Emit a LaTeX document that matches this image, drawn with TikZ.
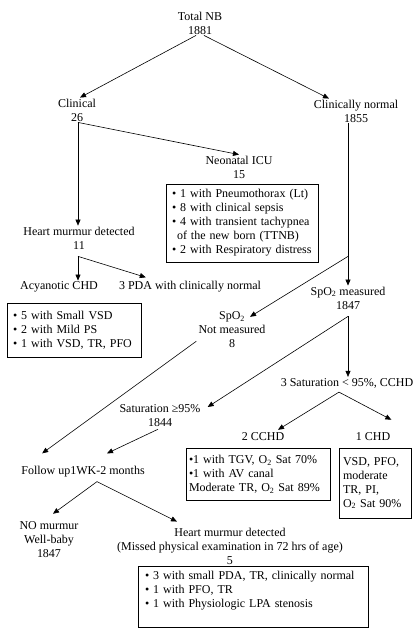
\documentclass[tikz,border=0pt]{standalone}
\usepackage{fontspec}
\setmainfont{Liberation Serif}
\usetikzlibrary{arrows.meta}
\usetikzlibrary{calc}

\begin{document}
\begin{tikzpicture}[x=1pt,y=-1pt,font=\fontsize{12}{14}\selectfont]
\tikzset{lbl/.style={inner sep=1pt,align=center}}
\tikzset{infobox/.style={draw=black,line width=0.6pt,align=left,inner ysep=0pt}}
\tikzset{arr/.style={line width=0.6pt,-{Triangle[length=6pt,width=5pt]}}}
\useasboundingbox (0,0) rectangle (416,630);

   \node[lbl] (total) at (200,23) {Total NB\\1881};
   \node[lbl] (clin) at (77,110) {Clinical\\26};
   \node[lbl] (norm) at (356,111) {Clinically normal\\1855};
   \node[lbl] (nicu) at (239,167) {Neonatal ICU\\15};
   \node[infobox,inner xsep=6pt,text width=140pt,minimum height=78pt] (nicubox) at (242,223)
      {• 1 with Pneumothorax (Lt)\\• 8 with clinical sepsis\\• 4 with transient tachypnea\\
       \hspace*{5pt}of the new born (TTNB)\\• 2 with Respiratory distress};
   \node[lbl] (hm1) at (79,238) {Heart murmur detected\\11};
   \node[lbl] (acy) at (59,287) {Acyanotic CHD};
   \node[lbl] (pda) at (190,287) {3 PDA with clinically normal};
   \node[infobox,inner xsep=6pt,text width=122pt,minimum height=54pt] (acybox) at (74,330)
      {• 5 with Small VSD\\• 2 with Mild PS\\• 1 with VSD, TR, PFO};
   \node[lbl] (spm) at (348,298) {SpO\textsubscript{2} measured\\1847};
   \node[lbl] (spn) at (232,330) {SpO\textsubscript{2}\\Not measured\\8};
   \node[lbl] (s3) at (347,383) {3 Saturation < 95\%, CCHD};
   \node[lbl] (s95) at (160,416) {Saturation ≥95\%\\1844};
   \node[lbl] (cchd) at (263,437) {2 CCHD};
   \node[lbl] (chd) at (373,437) {1 CHD};
   \node[infobox,inner xsep=3pt,text width=138pt,minimum height=52pt] (cchdbox) at (258,474)
      {•1 with TGV, O\textsubscript{2} Sat 70\%\\•1 with AV canal\\Moderate TR, O\textsubscript{2} Sat 89\%};
   \node[infobox,inner xsep=4pt,text width=64pt,minimum height=70pt] (chdbox) at (375,483)
      {VSD, PFO,\\moderate\\TR, PI,\\O\textsubscript{2} Sat 90\%};
   \node[lbl] (fu) at (83,472) {Follow up1WK-2 months};
   \node[lbl] (nom) at (49,540) {NO murmur\\Well-baby\\1847};
   \node[lbl] (hm2) at (230,546) {Heart murmur detected\\(Missed physical examination in 72 hrs of age)\\5};
   \node[infobox,inner xsep=7pt,text width=216pt,minimum height=61pt] (lastbox) at (253,596.5)
      {• 3 with small PDA, TR, clinically normal\\• 1 with PFO, TR\\• 1 with Physiologic LPA stenosis\\\mbox{}};

   \coordinate (hmfork) at ([shift={(-1,6)}]hm1.south);
   \coordinate (split) at ($(spm.north |- norm.south)!0.82!(spm.north)$);
   \coordinate (mfork) at ([shift={(0,6)}]spm.south);
   \coordinate (s3fork) at ([shift={(-8,3)}]s3.south);
   \coordinate (fufork) at ([shift={(14,3)}]fu.south);

   \draw[arr] ([xshift=-4pt]total.south) -- ([xshift=3pt]clin.north);
   \draw[arr] ([xshift=4pt]total.south) -- ([xshift=-27pt]norm.north);
   \draw[arr] ([xshift=1pt]clin.south) -- ([xshift=1pt]clin.south |- hm1.north);
   \draw[arr] ([xshift=1pt]clin.south) -- (nicu.north);
   \draw[arr] (hmfork) -- (hmfork |- acy.north);
   \draw[arr] (hmfork) -- ([shift={(28,-3)}]pda.north west);
   \draw[arr] (spm.north |- norm.south) -- (spm.north);
   \draw[arr] (split) -- ([shift={(18,6)}]spn.north);
   \draw[arr] ([shift={(-1,-8)}]spn.south west) -- ([shift={(22,-12)}]fu.north west);
   \draw[arr] (mfork) -- ([shift={(6,-9)}]s95.east);
   \draw[arr] (mfork) -- (mfork |- s3.north);
   \draw[arr] (s3fork) -- ([shift={(15,-2)}]cchd.north);
   \draw[arr] (s3fork) -- ([shift={(0,-12)}]chd.north east);
   \draw[arr] ([shift={(-2,1)}]s95.south) -- ([shift={(24,-12)}]fu.north);
   \draw[arr] (fufork) -- ([shift={(4,-7)}]nom.north);
   \draw[arr] (fufork) -- ([shift={(-53,-5)}]hm2.north);
\end{tikzpicture}
\end{document}
